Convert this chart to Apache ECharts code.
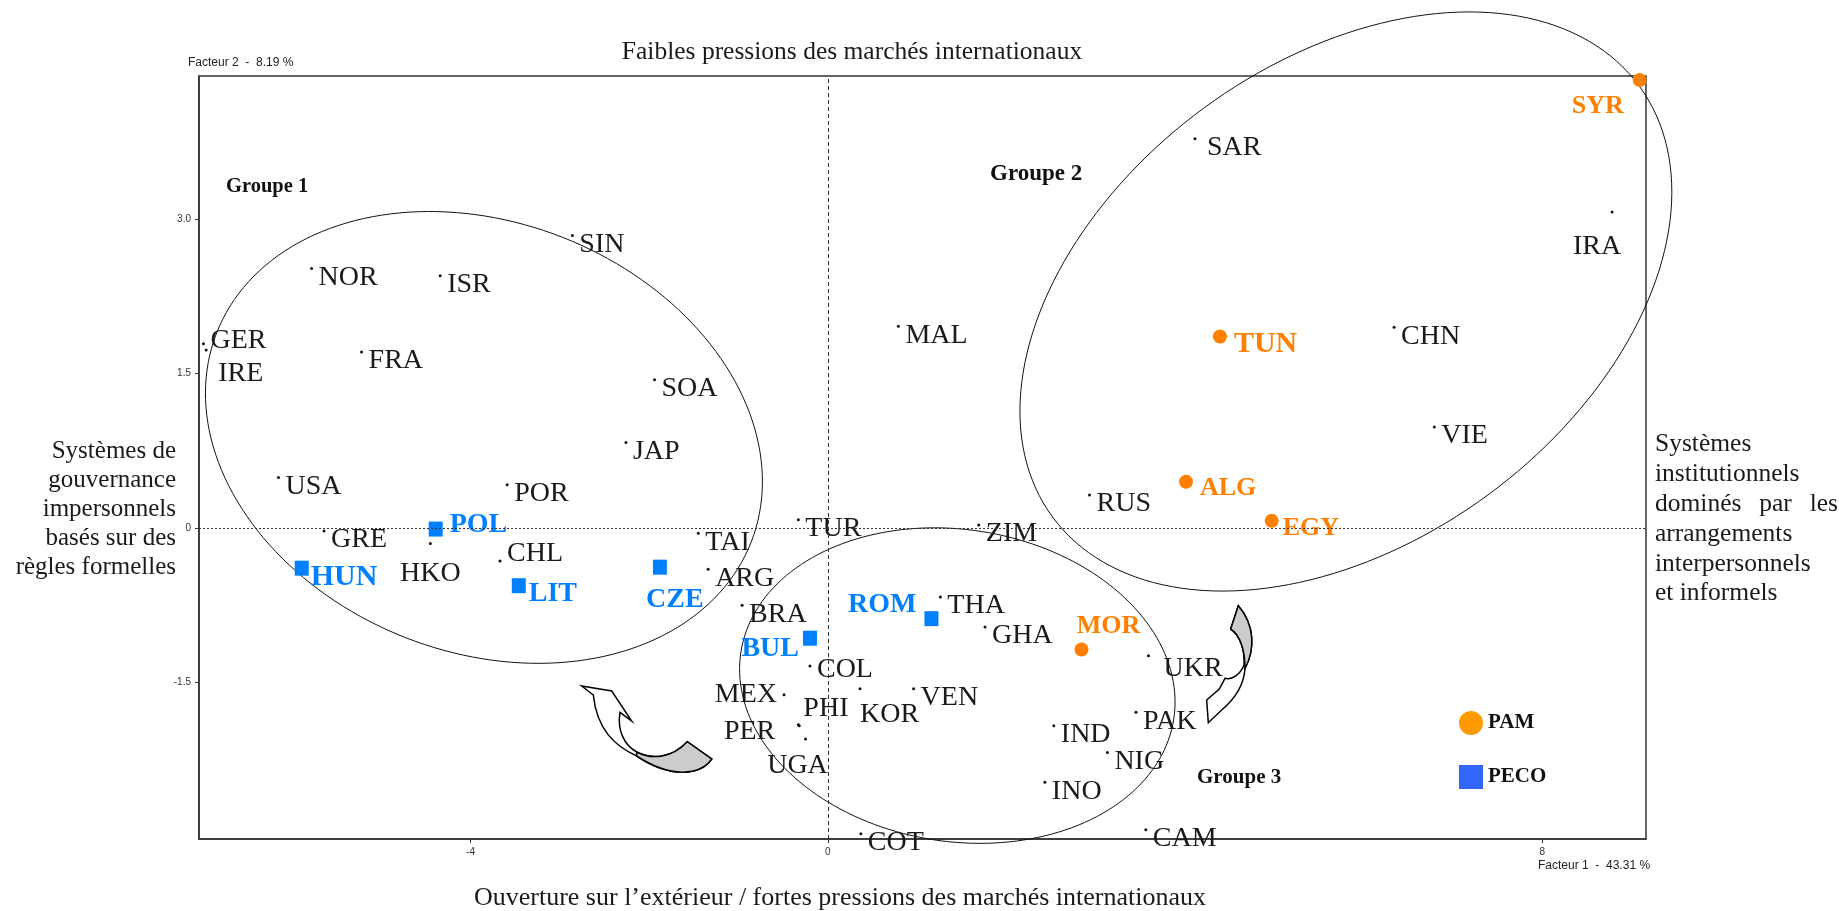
<!DOCTYPE html>
<html>
<head>
<meta charset="utf-8">
<title>Plan factoriel</title>
<script src="https://cdn.jsdelivr.net/npm/echarts@6/dist/echarts.min.js"></script>
<style>
  html, body { margin: 0; padding: 0; background: #fff; }
  #chart { width: 1839px; height: 911px; }
</style>
</head>
<body>
<div id="chart"></div>
<script>
// pays sans groupe particulier (points noirs)
var autresNoms = ['SIN', 'NOR', 'ISR', 'GER', 'IRE', 'FRA', 'SOA', 'JAP', 'USA', 'POR',
  'GRE', 'HKO', 'CHL', 'TAI', 'ARG', 'BRA', 'COL', 'MEX', 'PHI', 'PER',
  'UGA', 'KOR', 'VEN', 'TUR', 'ZIM', 'THA', 'GHA', 'UKR', 'PAK', 'IND',
  'NIG', 'INO', 'COT', 'CAM', 'MAL', 'SAR', 'IRA', 'CHN', 'VIE', 'RUS'];
var autresF1 = [-2.86, -5.78, -4.34, -6.99, -6.96, -5.22, -1.94, -2.26, -6.15, -3.59,
  -5.64, -4.45, -3.67, -1.45, -1.34, -0.96, -0.20, -0.49, -0.33, -0.32,
  -0.25, 0.36, 0.96, -0.33, 1.69, 1.26, 1.76, 3.59, 3.45, 2.53,
  3.13, 2.43, 0.37, 3.56, 0.79, 4.11, 8.78, 6.34, 6.79, 2.93];
var autresF2 = [2.84, 2.52, 2.45, 1.79, 1.73, 1.71, 1.44, 0.83, 0.49, 0.42,
  -0.03, -0.15, -0.32, -0.05, -0.40, -0.75, -1.34, -1.62, -1.91, -1.92,
  -2.05, -1.56, -1.56, 0.08, 0.03, -0.67, -0.96, -1.24, -1.79, -1.92,
  -2.18, -2.47, -2.97, -2.93, 1.96, 3.78, 3.07, 1.95, 0.98, 0.32];

// PAM (pays arabes mediterraneens)
var pamNoms = ['SYR', 'TUN', 'ALG', 'EGY', 'MOR'];
var pamF1 = [9.09, 4.39, 4.01, 4.97, 2.84];
var pamF2 = [4.35, 1.86, 0.45, 0.07, -1.18];

// PECO
var pecoNoms = ['POL', 'HUN', 'LIT', 'CZE', 'BUL', 'ROM'];
var pecoF1 = [-4.39, -5.89, -3.46, -1.88, -0.20, 1.16];
var pecoF2 = [-0.01, -0.39, -0.56, -0.38, -1.07, -0.88];

// groupes (centres des ellipses)
var groupes = ['Groupe 1', 'Groupe 2', 'Groupe 3'];
var groupeF1 = [-3.85, 5.80, 1.45];
var groupeF2 = [0.88, 2.20, -1.53];

var ticksF1 = [-4, 0, 4, 8];
var ticksF2 = [-1.5, 0, 1.5, 3];

// forme des ellipses en pixels : demi-axes et rotation
var ellipseForme = [[287, 215, 21.4], [364, 240, -36.3], [219, 156, 8.8]];

// placement des etiquettes : [align, dx, dy] depuis le centre du point
var placeDefaut = ['left', 7, 7];
var place = {
  GER: ['left', 7, -5], IRE: ['left', 12, 22], HKO: ['center', 0, 28],
  CHL: ['left', 7, -9], COL: ['left', 7, 2], MEX: ['right', -7, -2],
  PHI: ['left', 5, -18], PER: ['right', -24, 4], UGA: ['center', -8, 25],
  KOR: ['left', 0, 24], UKR: ['left', 15, 11], SAR: ['left', 12, 7],
  IRA: ['center', -15, 33],
  POL: ['left', 14, -6], HUN: ['left', 9, 7], LIT: ['left', 10, 6],
  CZE: ['center', 15, 31], BUL: ['right', -11, 9], ROM: ['right', -15, -16],
  SYR: ['center', -42, 24], TUN: ['left', 14, 6], ALG: ['left', 14, 5],
  EGY: ['left', 11, 5], MOR: ['center', 27, -25]
};
// quelques etiquettes plus grandes dans l'original
var taille = { HUN: 30, TUN: 30 };

// fleches decoratives (pixels) : corps blanc puis face grise
var fleches = [
  ['M593.3 695 L581.7 686 L611.7 691 L631.7 721 L620 712.3 C617 730 624 745 636.7 752 C652 760 672 758 687.3 741.7 L711.7 759 C700 776 670 778 636.7 756 C615 746 597 730 593.3 695 Z', '#fff'],
  ['M636.7 752 C652 760 672 758 687.3 741.7 L711.7 759 C700 776 670 778 636.7 756 Z', '#cccccc'],
  ['M1230.7 629 L1238.3 605.7 C1255 625 1255 650 1245 668.3 C1244 685 1236 698 1221.7 710 L1208.3 722.7 L1206.7 700 L1219.3 689 L1225 678.3 C1232 680 1240 675 1244 665 C1245 650 1240 635 1230.7 629 Z', '#fff'],
  ['M1238.3 605.7 C1255 625 1255 650 1245 668.3 C1245 650 1240 635 1230.7 629 Z', '#cccccc']
];

var serif = '"Liberation Serif", "DejaVu Serif", serif';
var sans = '"Liberation Sans", Arial, sans-serif';
var bleu = '#0080ff';
var orange = '#ff8000';

function points(noms, xs, ys, w, h) {
  return noms.map(function (n, i) {
    var p = place[n] || placeDefaut;
    var lab = { position: [p[1] + w / 2, p[2] + 2 + h / 2], align: p[0], verticalAlign: 'middle' };
    if (taille[n]) lab.fontSize = taille[n];
    return { name: n, value: [xs[i], ys[i]], label: lab };
  });
}

var chart = echarts.init(document.getElementById('chart'));

var option = {
  animation: false,
  grid: { left: 199, top: 76, width: 1447, height: 763, show: true, borderColor: '#333', borderWidth: 1.5 },
  legend: {
    data: [
      { name: 'PAM', icon: 'circle', itemStyle: { color: '#ff9900', opacity: 1 } },
      { name: 'PECO', icon: 'rect', itemStyle: { color: '#3366ff', opacity: 1 } }
    ],
    orient: 'vertical',
    left: 1454,
    top: 706,
    itemWidth: 24,
    itemHeight: 24,
    itemGap: 30,
    selectedMode: false,
    textStyle: { fontFamily: serif, fontWeight: 'bold', fontSize: 21, color: '#111' }
  },
  xAxis: {
    type: 'value',
    min: -7.04,
    max: 9.16,
    axisLine: { show: true, onZero: false, lineStyle: { color: '#333', width: 1.5 } },
    splitLine: { show: false },
    axisTick: { show: true, customValues: ticksF1, length: 4, lineStyle: { color: '#333' } },
    axisLabel: {
      customValues: ticksF1,
      margin: 8,
      fontSize: 10,
      color: '#333',
      fontFamily: sans,
      formatter: function (v) { return v === 4 ? '' : String(v); }
    }
  },
  yAxis: {
    type: 'value',
    min: -3.02,
    max: 4.39,
    axisLine: { show: true, onZero: false, lineStyle: { color: '#333', width: 1.5 } },
    splitLine: { show: false },
    axisTick: { show: true, customValues: ticksF2, length: 4, lineStyle: { color: '#333' } },
    axisLabel: {
      customValues: ticksF2,
      margin: 8,
      fontSize: 10,
      color: '#333',
      fontFamily: sans,
      formatter: function (v) { return v === 0 ? '0' : v.toFixed(1); }
    }
  },
  series: [
    {
      type: 'custom',
      name: 'ellipses',
      silent: true,
      clip: false,
      z: 1,
      data: groupes.map(function (g, i) { return { name: g, value: [groupeF1[i], groupeF2[i]] }; }),
      renderItem: function (params, api) {
        var c = api.coord([api.value(0), api.value(1)]);
        var f = ellipseForme[params.dataIndex];
        var th = f[2] * Math.PI / 180;
        var pts = [];
        for (var k = 0; k < 180; k++) {
          var t = k / 180 * 2 * Math.PI;
          pts.push([
            c[0] + f[0] * Math.cos(t) * Math.cos(th) - f[1] * Math.sin(t) * Math.sin(th),
            c[1] + f[0] * Math.cos(t) * Math.sin(th) + f[1] * Math.sin(t) * Math.cos(th)
          ]);
        }
        return { type: 'polygon', shape: { points: pts }, style: { fill: 'none', stroke: '#111', lineWidth: 1 } };
      }
    },
    {
      type: 'custom',
      name: 'fleches',
      silent: true,
      clip: false,
      z: 2,
      data: [[0, 0]],
      renderItem: function () {
        return {
          type: 'group',
          children: fleches.map(function (f) {
            return { type: 'path', shape: { pathData: f[0] }, style: { fill: f[1], stroke: '#000', lineWidth: 1.5 } };
          })
        };
      }
    },
    {
      type: 'scatter',
      name: 'Autres',
      silent: true,
      z: 3,
      symbol: 'circle',
      symbolSize: 3,
      itemStyle: { color: '#111', opacity: 1 },
      label: { show: true, formatter: '{b}', color: '#1a1a1a', fontSize: 28, fontFamily: serif },
      data: points(autresNoms, autresF1, autresF2, 3, 3),
      markLine: {
        silent: true,
        symbol: 'none',
        label: { show: false },
        lineStyle: { color: '#333', width: 1 },
        data: [
          { xAxis: 0, lineStyle: { type: [4, 3], color: '#333', width: 1 } },
          { yAxis: 0, lineStyle: { type: [2, 2], color: '#333', width: 1 } }
        ]
      }
    },
    {
      type: 'scatter',
      name: 'PAM',
      silent: true,
      z: 4,
      symbol: 'circle',
      symbolSize: 14,
      itemStyle: { color: orange, opacity: 1 },
      label: { show: true, formatter: '{b}', color: orange, fontSize: 26, fontWeight: 'bold', fontFamily: serif },
      data: points(pamNoms, pamF1, pamF2, 14, 14)
    },
    {
      type: 'scatter',
      name: 'PECO',
      silent: true,
      z: 4,
      symbol: 'rect',
      symbolSize: [14, 15],
      itemStyle: { color: bleu, opacity: 1 },
      label: { show: true, formatter: '{b}', color: bleu, fontSize: 28, fontWeight: 'bold', fontFamily: serif },
      data: points(pecoNoms, pecoF1, pecoF2, 14, 15)
    }
  ],
  graphic: [
    { type: 'text', x: 852, y: 52, style: { text: 'Faibles pressions des marchés internationaux', font: '25.5px ' + serif, fill: '#1a1a1a', textAlign: 'center', textVerticalAlign: 'middle' } },
    { type: 'text', x: 840, y: 898, style: { text: 'Ouverture sur l’extérieur / fortes pressions des marchés internationaux', font: '26px ' + serif, fill: '#1a1a1a', textAlign: 'center', textVerticalAlign: 'middle' } },
    { type: 'text', x: 176, y: 509.5, style: { text: 'Systèmes de\ngouvernance\nimpersonnels\nbasés sur des\nrègles formelles', font: '25px ' + serif, lineHeight: 28.8, fill: '#1a1a1a', textAlign: 'right', textVerticalAlign: 'middle' } },
    { type: 'text', x: 1655, y: 519, style: { text: 'Systèmes\ninstitutionnels\ndominés \u2009 par \u2009 les\narrangements\ninterpersonnels\net informels', font: '25.5px ' + serif, lineHeight: 29.9, fill: '#1a1a1a', textAlign: 'left', textVerticalAlign: 'middle' } },
    { type: 'text', x: 188, y: 63, style: { text: 'Facteur 2  -  8.19 %', font: '12px ' + sans, fill: '#222', textAlign: 'left', textVerticalAlign: 'middle' } },
    { type: 'text', x: 1538, y: 866, style: { text: 'Facteur 1  -  43.31 %', font: '12px ' + sans, fill: '#222', textAlign: 'left', textVerticalAlign: 'middle' } },
    { type: 'text', x: 226, y: 187, style: { text: 'Groupe 1', font: 'bold 20.5px ' + serif, fill: '#111', textAlign: 'left', textVerticalAlign: 'middle' } },
    { type: 'text', x: 990, y: 174, style: { text: 'Groupe 2', font: 'bold 23px ' + serif, fill: '#111', textAlign: 'left', textVerticalAlign: 'middle' } },
    { type: 'text', x: 1197, y: 778, style: { text: 'Groupe 3', font: 'bold 21px ' + serif, fill: '#111', textAlign: 'left', textVerticalAlign: 'middle' } }
  ]
};

chart.setOption(option);
</script>
</body>
</html>
